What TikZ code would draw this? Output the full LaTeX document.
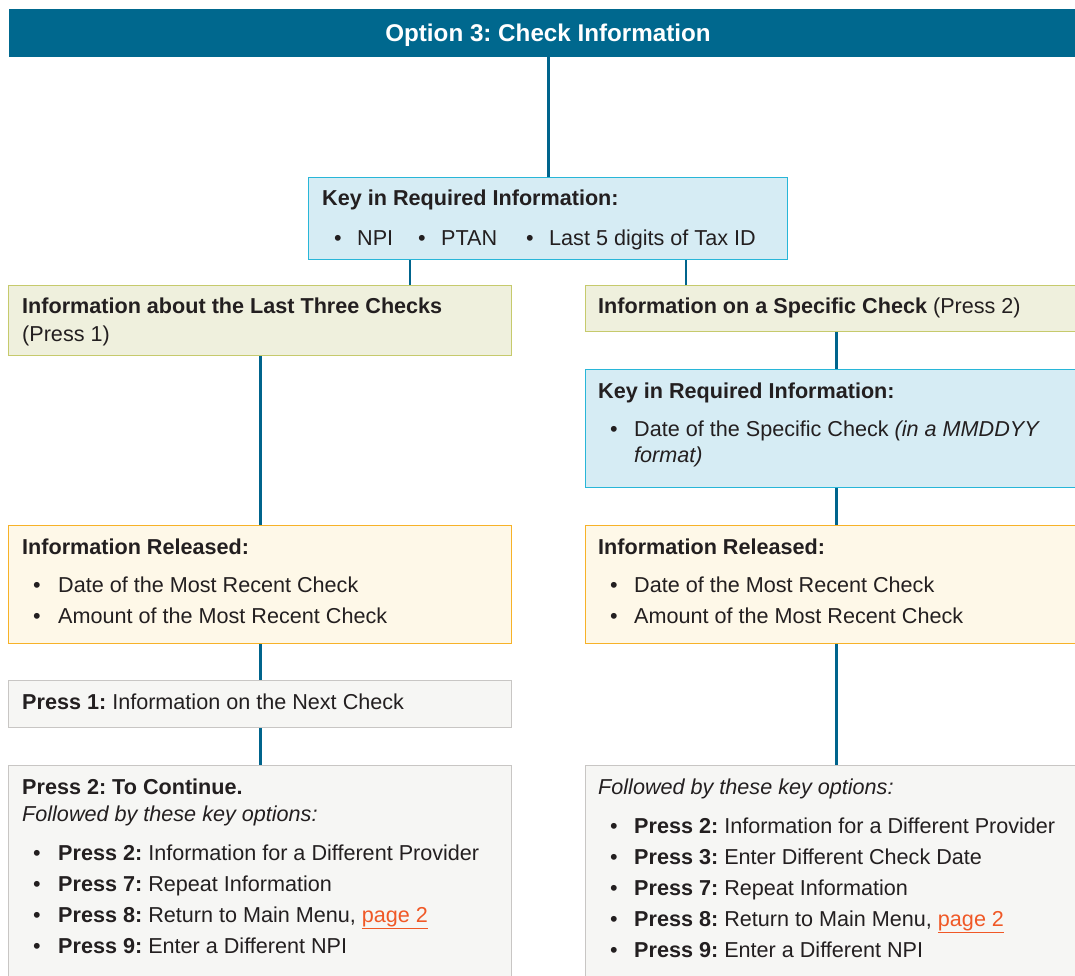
\documentclass[tikz,border=0pt]{standalone}
\usepackage{fontspec}
\setmainfont{Liberation Sans}
\frenchspacing
\definecolor{hdrblue}{RGB}{0,104,142}
\definecolor{conncol}{RGB}{0,100,140}
\definecolor{bluefill}{RGB}{214,236,244}
\definecolor{blueline}{RGB}{40,182,216}
\definecolor{greenfill}{RGB}{239,240,221}
\definecolor{greenline}{RGB}{198,202,108}
\definecolor{yelfill}{RGB}{254,248,232}
\definecolor{yelline}{RGB}{247,178,40}
\definecolor{grayfill}{RGB}{246,246,244}
\definecolor{grayline}{RGB}{200,198,196}
\definecolor{txtcol}{RGB}{35,31,32}
\definecolor{linkcol}{RGB}{240,88,38}
\tikzset{
  boxbase/.style={rectangle, inner sep=0pt, anchor=north west, line width=1.4pt},
  hdrbox/.style={boxbase, fill=hdrblue, draw=none},
  bluebox/.style={boxbase, fill=bluefill, draw=blueline},
  greenbox/.style={boxbase, fill=greenfill, draw=greenline},
  yelbox/.style={boxbase, fill=yelfill, draw=yelline},
  graybox/.style={boxbase, fill=grayfill, draw=grayline},
  conn/.style={draw=conncol, line width=2.6pt},
  txt/.style={anchor=base west, inner sep=0pt, text=txtcol, font=\fontsize{21.6}{26}\selectfont\frenchspacing},
  bul/.style={txt}
}
\newcommand{\pk}[1]{\textbf{#1}}
\newcommand{\lnk}[1]{\textcolor{linkcol}{\underline{#1}}}
\begin{document}
\begin{tikzpicture}[x=1pt,y=-1pt]
\useasboundingbox (0,0) rectangle (1075,975);
% boxes
\node[hdrbox, minimum width=1080pt, minimum height=48pt] (hdr) at (8,8) {};
\node[bluebox, minimum width=479pt, minimum height=82pt] (key) at (308,177) {};
\node[greenbox, minimum width=503pt, minimum height=70pt] (A) at (8,285) {};
\node[greenbox, minimum width=502pt, minimum height=46pt] (B) at (585,285) {};
\node[bluebox, minimum width=502pt, minimum height=118pt] (key2) at (585,369) {};
\node[yelbox, minimum width=503pt, minimum height=118pt] (relL) at (8,525) {};
\node[yelbox, minimum width=502pt, minimum height=118pt] (relR) at (585,525) {};
\node[graybox, minimum width=503pt, minimum height=47pt] (p1) at (8,680) {};
\node[graybox, minimum width=503pt, minimum height=230pt] (p2) at (8,765) {};
\node[graybox, minimum width=502pt, minimum height=230pt] (fin) at (585,765) {};
% connectors
\draw[conn] (key.north) -- (key.north |- hdr.south);
\draw[conn] (A.north -| 410,0) -- (key.south -| 410,0);
\draw[conn] (B.north -| 686,0) -- (key.south -| 686,0);
\draw[conn] (A.south) -- (relL.north);
\draw[conn] (B.south) -- (key2.north);
\draw[conn] (key2.south) -- (relR.north);
\draw[conn] (relL.south) -- (p1.north);
\draw[conn] (p1.south) -- (p2.north);
\draw[conn] (relR.south) -- (fin.north);
% header text
\node[anchor=base, inner sep=0pt, text=white, font=\fontsize{24.2}{28}\selectfont\bfseries\frenchspacing] (title) at (548,41) {Option 3: Check Information};
% key box
\node[txt] (k1) at (322,205) {\pk{Key in Required Information:}};
\node[bul] (k2a) at (334,245) {•};
\node[txt] (k2b) at (357,245) {NPI};
\node[bul] (k3a) at (418,245) {•};
\node[txt] (k3b) at (441,245) {PTAN};
\node[bul] (k4a) at (526,245) {•};
\node[txt] (k4b) at (549,245) {Last 5 digits of Tax ID};
% A
\node[txt] (a1) at (22,313) {\pk{Information about the Last Three Checks}};
\node[txt] (a2) at (22,341) {(Press 1)};
% B
\node[txt] (b1) at (598,313) {\pk{Information on a Specific Check} (Press 2)};
% key2
\node[txt] (c1) at (598,398) {\pk{Key in Required Information:}};
\node[bul] (c2a) at (610,436) {•};
\node[txt] (c2b) at (634,436) {Date of the Specific Check \textit{(in a MMDDYY}};
\node[txt] (c3) at (634,462) {\textit{format)}};
% released left
\node[txt] (d1) at (22,554) {\pk{Information Released:}};
\node[bul] (d2a) at (33,592) {•};
\node[txt] (d2b) at (58,592) {Date of the Most Recent Check};
\node[bul] (d3a) at (33,623) {•};
\node[txt] (d3b) at (58,623) {Amount of the Most Recent Check};
% released right
\node[txt] (e1) at (598,554) {\pk{Information Released:}};
\node[bul] (e2a) at (610,592) {•};
\node[txt] (e2b) at (634,592) {Date of the Most Recent Check};
\node[bul] (e3a) at (610,623) {•};
\node[txt] (e3b) at (634,623) {Amount of the Most Recent Check};
% press 1
\node[txt] (f1) at (22,709) {\pk{Press 1:} Information on the Next Check};
% press 2
\node[txt] (g1) at (22,794) {\pk{Press 2: To Continue.}};
\node[txt] (g2) at (22,821) {\textit{Followed by these key options:}};
\node[bul] (g3a) at (33,860) {•};
\node[txt] (g3b) at (58,860) {\pk{Press 2:} Information for a Different Provider};
\node[bul] (g4a) at (33,891) {•};
\node[txt] (g4b) at (58,891) {\pk{Press 7:} Repeat Information};
\node[bul] (g5a) at (33,922) {•};
\node[txt] (g5b) at (58,922) {\pk{Press 8:} Return to Main Menu, \lnk{page 2}};
\node[bul] (g6a) at (33,953) {•};
\node[txt] (g6b) at (58,953) {\pk{Press 9:} Enter a Different NPI};
% final right
\node[txt] (h1) at (598,794) {\textit{Followed by these key options:}};
\node[bul] (h2a) at (610,833) {•};
\node[txt] (h2b) at (634,833) {\pk{Press 2:} Information for a Different Provider};
\node[bul] (h3a) at (610,864) {•};
\node[txt] (h3b) at (634,864) {\pk{Press 3:} Enter Different Check Date};
\node[bul] (h4a) at (610,895) {•};
\node[txt] (h4b) at (634,895) {\pk{Press 7:} Repeat Information};
\node[bul] (h5a) at (610,926) {•};
\node[txt] (h5b) at (634,926) {\pk{Press 8:} Return to Main Menu, \lnk{page 2}};
\node[bul] (h6a) at (610,957) {•};
\node[txt] (h6b) at (634,957) {\pk{Press 9:} Enter a Different NPI};
\end{tikzpicture}
\end{document}
